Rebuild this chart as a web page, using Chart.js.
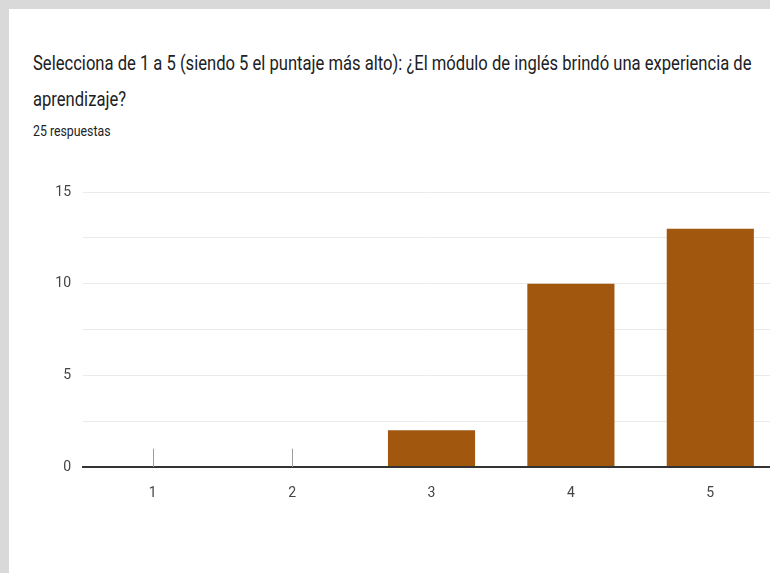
<!DOCTYPE html>
<html>
<head>
<meta charset="utf-8">
<script src="https://cdn.jsdelivr.net/npm/chart.js@4"></script>
<style>
  html, body { margin: 0; padding: 0; overflow: hidden; background: #d9d9d9; width: 770px; height: 573px; }
  #card { position: absolute; left: 9px; top: 9px; width: 800px; height: 600px; background: #fff; }
  .t { position: absolute; left: 24px; white-space: nowrap; font-family: Roboto, sans-serif; color: #202124; transform-origin: 0 0; }
  #title1 { top: 42px; font-size: 21px; transform: scaleX(0.79); }
  #title2 { top: 78px; font-size: 21px; transform: scaleX(0.79); }
  #sub { top: 114px; font-size: 14px; transform: scaleX(0.88); }
  #wrap { position: absolute; left: 0; top: 161px; width: 771px; height: 403px; }
</style>
</head>
<body>
<div id="card">
  <div class="t" id="title1">Selecciona de 1 a 5 (siendo 5 el puntaje más alto): ¿El módulo de inglés brindó una experiencia de</div>
  <div class="t" id="title2">aprendizaje?</div>
  <div class="t" id="sub">25 respuestas</div>
  <div id="wrap"><canvas id="myChart"></canvas></div>
</div>
<script>
var labels = ['1', '2', '3', '4', '5'];
var counts = [0, 0, 2, 10, 13];

// little grey stub where a category has no answers
var zeroMarks = {
  id: 'zeroMarks',
  afterDatasetsDraw: function (chart) {
    var x = chart.scales.x, y = chart.scales.y, c = chart.ctx;
    c.save();
    c.strokeStyle = '#9e9e9e';
    c.lineWidth = 1;
    counts.forEach(function (v, i) {
      if (v !== 0) return;
      var px = Math.round(x.getPixelForValue(i)) + 0.5;
      c.beginPath();
      c.moveTo(px, y.getPixelForValue(0));
      c.lineTo(px, y.getPixelForValue(1));
      c.stroke();
    });
    c.restore();
  }
};

var ctx = document.getElementById('myChart').getContext('2d');
var myChart = new Chart(ctx, {
  type: 'bar',
  data: {
    labels: labels,
    datasets: [{
      data: counts,
      backgroundColor: '#a1570e',
      barPercentage: 0.625,
      categoryPercentage: 1
    }]
  },
  options: {
    responsive: true,
    maintainAspectRatio: false,
    animation: false,
    layout: { padding: { top: 22, right: 0, left: 0, bottom: 0 } },
    plugins: {
      legend: { display: false },
      tooltip: { enabled: false }
    },
    scales: {
      x: {
        grid: { display: false },
        border: { color: '#333', width: 2 },
        ticks: { color: '#444', font: { family: 'Roboto', size: 14 }, padding: 10 },
        afterFit: function (s) { s.height = 106; }
      },
      y: {
        min: 0,
        max: 15,
        border: { display: false },
        grid: {
          color: function (c) { return c.tick.value === 0 ? '#333' : '#ebebeb'; },
          lineWidth: function (c) { return c.tick.value === 0 ? 2 : 1; },
          drawTicks: false
        },
        ticks: {
          stepSize: 2.5,
          color: '#444',
          font: { family: 'Roboto', size: 14 },
          padding: 12,
          callback: function (v) { return v % 5 === 0 ? v : ''; }
        },
        afterFit: function (s) { s.width = 74; }
      }
    }
  },
  plugins: [zeroMarks]
});
</script>
</body>
</html>
